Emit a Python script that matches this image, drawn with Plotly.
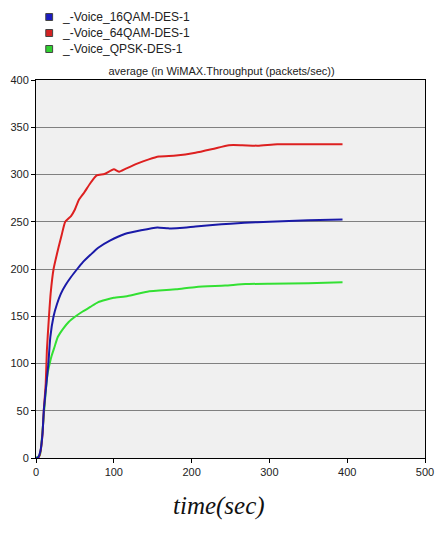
import plotly.graph_objects as go

# --- data ---
t_red = [0, 3, 6, 8.4, 10, 12.5, 14, 16.7, 18.8, 22.6, 29, 33, 37.6, 45, 50, 55, 62, 70, 78, 88,
         100, 107, 115, 130, 145, 158, 180, 205, 227, 248, 265, 285, 310, 350, 394]
y_red = [0, 0, 8, 26, 50, 79, 114, 150, 174, 200, 223, 236, 250, 256, 263, 273, 281, 291, 299, 300.5,
         305.5, 303, 306, 311.5, 316, 319, 320, 323, 327, 331, 331, 330.5, 332, 332, 332]

t_blue = [0, 3, 5.8, 8.4, 10, 13.4, 15.9, 18.4, 22.6, 27, 32, 38, 45, 53, 60, 70, 80, 95, 114,
          135, 156, 170, 185, 205, 227, 250, 268, 300, 350, 394]
y_blue = [0, 1, 8, 26, 50, 79, 100, 128, 150, 163, 174, 183, 191.5, 200, 207, 215, 222.5, 230, 237,
          241, 244, 243, 243.5, 245, 246.5, 248, 249, 250, 251.5, 252.5]

t_green = [0, 5, 8, 10, 13, 15, 17.6, 20, 24, 28, 35, 42, 51, 60, 70, 80, 90, 100, 118, 143,
           180, 206, 243, 269, 300, 350, 394]
y_green = [0, 3, 25, 45, 75, 90, 100, 108, 118, 128, 137, 144, 150, 155, 160, 165, 167.5, 169.5,
           171.5, 176, 178.5, 181, 182.5, 184, 184.5, 185, 186]

names = ["_-Voice_16QAM-DES-1", "_-Voice_64QAM-DES-1", "_-Voice_QPSK-DES-1"]
x_ticks = [0, 100, 200, 300, 400, 500]
y_ticks = [0, 50, 100, 150, 200, 250, 300, 350, 400]

line_colors = {"blue": "#1a1aa8", "red": "#dd2020", "green": "#33e033"}
swatch_colors = {"blue": "#1c1cc0", "red": "#d42222", "green": "#30d030"}

W, H = 443, 540
ML, MR, MT, MB = 36, 9, 80, 82
PW, PH = W - ML - MR, H - MT - MB

fig = go.Figure()
series = [("blue", t_blue, y_blue, names[0]),
          ("red", t_red, y_red, names[1]),
          ("green", t_green, y_green, names[2])]

for key, tx, ty, nm in reversed(series):
    fig.add_trace(go.Scatter(x=tx, y=ty, mode="lines", name=nm, showlegend=False,
                             line=dict(color=line_colors[key], width=2, shape="spline",
                                       smoothing=0.5)))

# legend drawn in pixel space (paper coordinates)
def px_x(px):
    return (px - ML) / PW

def px_y(py):
    return (H - MB - py) / PH

for i, (key, tx, ty, nm) in enumerate(series):
    cy = 17 + 16 * i
    fig.add_shape(type="rect", xref="paper", yref="paper",
                  x0=px_x(46), x1=px_x(53), y0=px_y(cy + 3.5), y1=px_y(cy - 3.5),
                  fillcolor=swatch_colors[key], line=dict(color="#444444", width=1))
    fig.add_annotation(text=nm, xref="paper", yref="paper", x=px_x(61), y=px_y(cy),
                       xanchor="left", yanchor="middle", showarrow=False,
                       font=dict(size=12, color="#222222"))

fig.update_layout(
    width=W, height=H,
    margin=dict(l=ML, r=MR, t=MT, b=MB),
    paper_bgcolor="white",
    plot_bgcolor="#f0f0f0",
    font=dict(family="Arial, Liberation Sans, sans-serif", size=11, color="#222222"),
    title=dict(text="average (in WiMAX.Throughput (packets/sec))",
               x=0.5, xref="container", xanchor="center",
               y=1 - 71 / H, yref="container", yanchor="middle",
               font=dict(size=11, color="#222222")),
    showlegend=False,
)
fig.update_xaxes(range=[0, 500], tickvals=x_ticks, showgrid=False, zeroline=False,
                 showline=True, linecolor="black", linewidth=1, mirror=True,
                 ticks="outside", ticklen=4, tickcolor="black", ticklabeloverflow="allow")
fig.update_yaxes(range=[0, 400], tickvals=y_ticks, showgrid=True, gridcolor="#808080",
                 gridwidth=1, zeroline=False,
                 showline=True, linecolor="black", linewidth=1, mirror=True,
                 ticks="outside", ticklen=4, tickcolor="black")

fig.add_annotation(text="<i>time(sec)</i>", x=px_x(223), xref="paper", xanchor="center",
                   y=px_y(506), yref="paper", yanchor="middle", showarrow=False,
                   font=dict(family="Liberation Serif, Times New Roman, serif", size=25,
                             color="#111111"))

fig.write_html("out.html")
